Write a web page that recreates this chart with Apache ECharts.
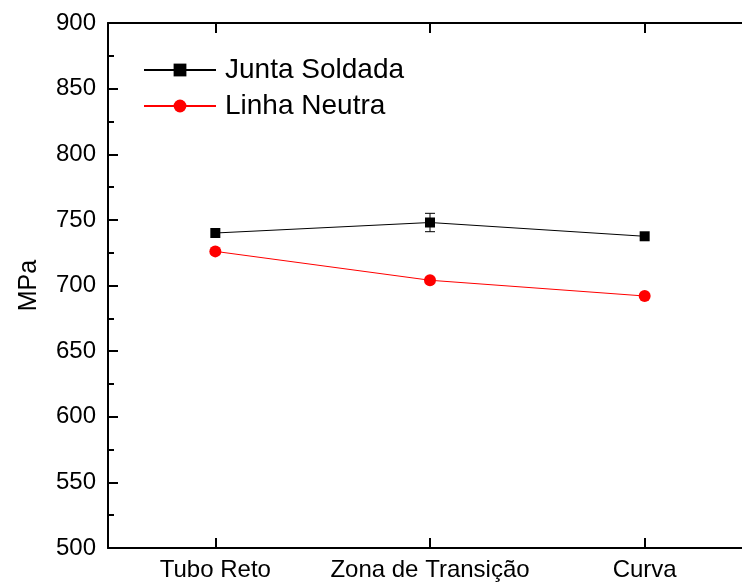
<!DOCTYPE html>
<html>
<head>
<meta charset="utf-8">
<script src="https://cdn.jsdelivr.net/npm/echarts@6/dist/echarts.min.js"></script>
<style>html,body{margin:0;padding:0;background:#fff;overflow:hidden;width:742px;height:585px}#c{width:770px;height:585px}</style>
</head>
<body>
<div id="c"></div>
<script>
const categories = ['Tubo Reto', 'Zona de Transição', 'Curva'];
const juntaSoldada = [740, 748, 737.5];
const linhaNeutra = [726, 704, 692];
// error bars: [categoryIndex, low, high]
const juntaErrors = [[1, 741, 755]];
const yTicks = { min: 500, max: 900, interval: 50 };

const FONT = '"Liberation Sans", Arial, sans-serif';
const chart = echarts.init(document.getElementById('c'), null, { renderer: 'canvas' });

const axisCommon = {
  axisLine: { show: true, lineStyle: { color: '#000', width: 2 } },
  splitLine: { show: false }
};

chart.setOption({
  animation: false,
  backgroundColor: '#fff',
  grid: { left: 108, top: 23, bottom: 37, width: 644, containLabel: false },
  legend: {
    orient: 'vertical',
    left: 138,
    top: 51,
    itemWidth: 72,
    itemHeight: 16,
    itemGap: 8,
    textStyle: { fontFamily: FONT, fontSize: 28, color: '#000', lineHeight: 28, padding: [0, 0, 0, 4] },
    data: ['Junta Soldada', 'Linha Neutra']
  },
  xAxis: [
    Object.assign({}, axisCommon, {
      type: 'category', data: categories, position: 'bottom', boundaryGap: true,
      axisTick: { show: true, inside: true, length: 10, alignWithLabel: true, interval: 0, lineStyle: { color: '#000', width: 2 } },
      axisLabel: { fontFamily: FONT, fontSize: 24, color: '#000', margin: 10, interval: 0 }
    }),
    Object.assign({}, axisCommon, {
      type: 'category', data: categories, position: 'top', boundaryGap: true,
      axisTick: { show: true, inside: true, length: 10, alignWithLabel: true, interval: 0, lineStyle: { color: '#000', width: 2 } },
      axisLabel: { show: false }
    })
  ],
  yAxis: [
    Object.assign({}, axisCommon, {
      type: 'value', position: 'left', min: yTicks.min, max: yTicks.max, interval: yTicks.interval,
      name: 'MPa', nameLocation: 'middle', nameGap: 66, nameRotate: 90,
      nameTextStyle: { fontFamily: FONT, fontSize: 25, color: '#000' },
      axisTick: { show: true, inside: true, length: 10, lineStyle: { color: '#000', width: 2 } },
      minorTick: { show: true, splitNumber: 2, length: 6, lineStyle: { color: '#000', width: 2 } },
      axisLabel: { fontFamily: FONT, fontSize: 24, color: '#000', margin: 12 }
    }),
    Object.assign({}, axisCommon, {
      type: 'value', position: 'right', min: yTicks.min, max: yTicks.max, interval: yTicks.interval,
      axisTick: { show: true, inside: true, length: 10, lineStyle: { color: '#000', width: 2 } },
      minorTick: { show: true, splitNumber: 2, length: 6, lineStyle: { color: '#000', width: 2 } },
      axisLabel: { show: false }
    })
  ],
  series: [
    {
      name: 'Junta Soldada', type: 'line', data: juntaSoldada,
      symbol: 'rect', symbolSize: 10, z: 3,
      lineStyle: { color: '#000', width: 1 }, itemStyle: { color: '#000' }
    },
    {
      name: 'Linha Neutra', type: 'line', data: linhaNeutra,
      symbol: 'circle', symbolSize: 12, z: 3,
      lineStyle: { color: '#ff0000', width: 1 }, itemStyle: { color: '#ff0000' }
    },
    {
      type: 'custom', name: 'err', data: juntaErrors, z: 2,
      renderItem: function (params, api) {
        const x = api.value(0);
        const lo = api.coord([x, api.value(1)]);
        const hi = api.coord([x, api.value(2)]);
        const hw = 5;
        const style = { stroke: '#000', lineWidth: 1 };
        return {
          type: 'group',
          children: [
            { type: 'line', shape: { x1: lo[0], y1: lo[1], x2: hi[0], y2: hi[1] }, style: style },
            { type: 'line', shape: { x1: hi[0] - hw, y1: hi[1], x2: hi[0] + hw, y2: hi[1] }, style: style },
            { type: 'line', shape: { x1: lo[0] - hw, y1: lo[1], x2: lo[0] + hw, y2: lo[1] }, style: style }
          ]
        };
      }
    }
  ]
});
</script>
</body>
</html>
